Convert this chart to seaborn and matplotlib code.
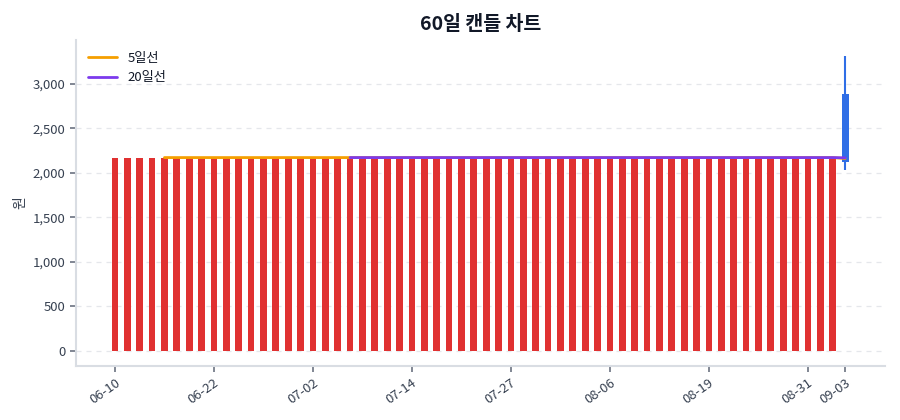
import matplotlib
matplotlib.use("Agg")
import matplotlib.pyplot as plt
import seaborn as sns
import numpy as np
import pandas as pd

dates = ["06-10", "06-11", "06-13", "06-14", "06-16", "06-17", "06-19", "06-20",
         "06-22", "06-23", "06-24", "06-25", "06-27", "06-28", "06-30", "07-01",
         "07-02", "07-03", "07-04", "07-06", "07-07", "07-09", "07-10", "07-12",
         "07-14", "07-15", "07-17", "07-18", "07-20", "07-21", "07-23", "07-25",
         "07-27", "07-28", "07-29", "07-31", "08-01", "08-02", "08-04", "08-05",
         "08-06", "08-07", "08-09", "08-10", "08-12", "08-13", "08-15", "08-17",
         "08-19", "08-20", "08-21", "08-23", "08-24", "08-26", "08-27", "08-29",
         "08-31", "09-01", "09-02", "09-03"]
opens = [0] * 59 + [2884]
closes = [2170] * 59 + [2116]
highs = [2170] * 59 + [3315]
lows = [0] * 59 + [2034]
tick_labels = ["06-10", "06-22", "07-02", "07-14", "07-27", "08-06", "08-19", "08-31", "09-03"]

UP = "#e03131"
DOWN = "#2f6ee6"

sns.set_theme(style="white")
plt.rcParams["font.family"] = ["Noto Sans CJK KR", "DejaVu Sans"]

df = pd.DataFrame({"date": dates, "open": opens, "close": closes,
                   "high": highs, "low": lows})
df["x"] = np.arange(len(df))
df["ma5"] = df["close"].rolling(5).mean()
df["ma20"] = df["close"].rolling(20).mean()

fig = plt.figure(figsize=(9, 4.2), dpi=100)
ax = fig.add_axes([0.0844, 0.129, 0.8986, 0.776])

colors = [UP if c >= o else DOWN for o, c in zip(df["open"], df["close"])]
bottoms = np.minimum(df["open"], df["close"])
heights = np.abs(df["close"] - df["open"])
ax.vlines(df["x"], df["low"], df["high"], colors=colors, linewidth=1.5, zorder=2)
ax.bar(df["x"], heights, bottom=bottoms, width=0.55, color=colors, zorder=3,
       linewidth=0)

sns.lineplot(data=df, x="x", y="ma5", ax=ax, color="#f59f00", linewidth=2,
             label="5일선", zorder=4)
sns.lineplot(data=df, x="x", y="ma20", ax=ax, color="#7c3aed", linewidth=2,
             label="20일선", zorder=5)

ax.set_xlim(-3.15, 62.2)
ax.set_ylim(-166, 3490)
ax.set_yticks([0, 500, 1000, 1500, 2000, 2500, 3000])
ax.yaxis.set_major_formatter(matplotlib.ticker.FuncFormatter(lambda v, p: f"{int(v):,}"))
tick_pos = [dates.index(t) for t in tick_labels]
ax.set_xticks(tick_pos)
ax.set_xticklabels(tick_labels, rotation=35, ha="right", rotation_mode="anchor")

ax.grid(axis="y", linestyle=(0, (4, 4)), color="#e5e7eb", linewidth=0.9)
ax.set_axisbelow(True)
for s in ["top", "right"]:
    ax.spines[s].set_visible(False)
for s in ["left", "bottom"]:
    ax.spines[s].set_color("#d9dde3")
    ax.spines[s].set_linewidth(1.5)
ax.tick_params(axis="both", colors="#6b7280", labelcolor="#374151", labelsize=9.5,
               length=4, width=1.2, left=True, bottom=True)

ax.set_xlabel("")
ax.set_ylabel("원", color="#374151", fontsize=10)
ax.set_title("60일 캔들 차트", fontsize=14, fontweight="bold", color="#111827", pad=7)

leg = ax.legend(loc="upper left", frameon=False, fontsize=9.5, handlelength=2.2)
for t in leg.get_texts():
    t.set_color("#111827")

fig.savefig("out.png", dpi=100)
